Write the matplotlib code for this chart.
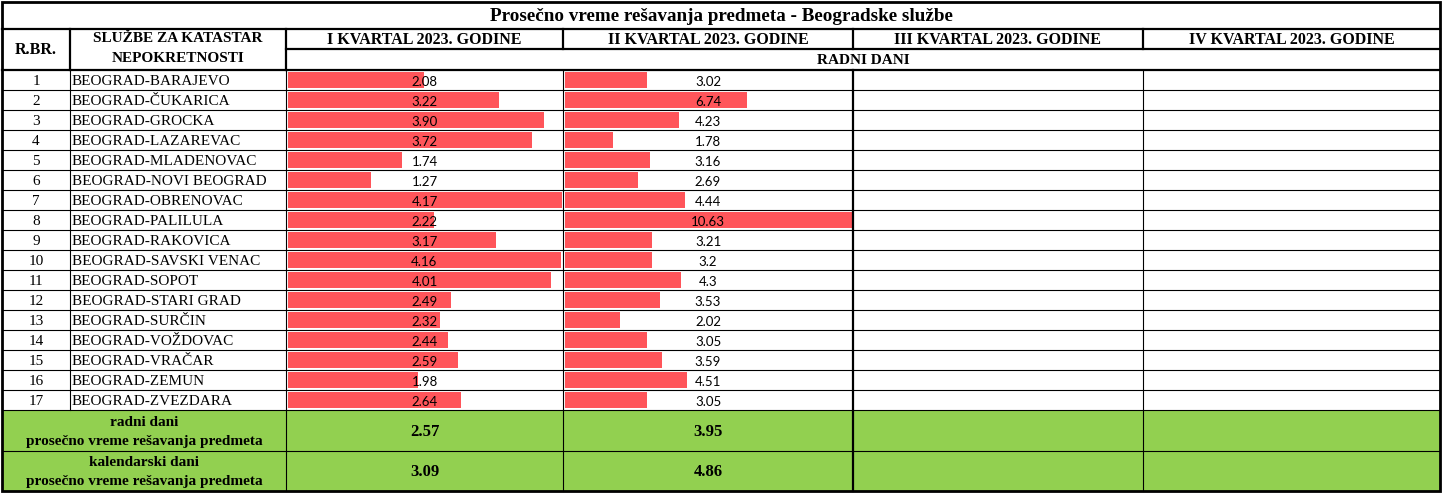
import matplotlib
matplotlib.use("Agg")
import matplotlib.pyplot as plt
from matplotlib.patches import Rectangle

# ---------------- data ----------------
title = "Prosečno vreme rešavanja predmeta - Beogradske službe"
quarters = ["I KVARTAL 2023. GODINE", "II KVARTAL 2023. GODINE",
            "III KVARTAL 2023. GODINE", "IV KVARTAL 2023. GODINE"]
services = ["BEOGRAD-BARAJEVO", "BEOGRAD-ČUKARICA", "BEOGRAD-GROCKA", "BEOGRAD-LAZAREVAC",
            "BEOGRAD-MLADENOVAC", "BEOGRAD-NOVI BEOGRAD", "BEOGRAD-OBRENOVAC", "BEOGRAD-PALILULA",
            "BEOGRAD-RAKOVICA", "BEOGRAD-SAVSKI VENAC", "BEOGRAD-SOPOT", "BEOGRAD-STARI GRAD",
            "BEOGRAD-SURČIN", "BEOGRAD-VOŽDOVAC", "BEOGRAD-VRAČAR", "BEOGRAD-ZEMUN",
            "BEOGRAD-ZVEZDARA"]
q1_values = [2.08, 3.22, 3.90, 3.72, 1.74, 1.27, 4.17, 2.22, 3.17, 4.16, 4.01, 2.49,
             2.32, 2.44, 2.59, 1.98, 2.64]
q1_labels = ["2.08", "3.22", "3.90", "3.72", "1.74", "1.27", "4.17", "2.22", "3.17", "4.16",
             "4.01", "2.49", "2.32", "2.44", "2.59", "1.98", "2.64"]
q2_values = [3.02, 6.74, 4.23, 1.78, 3.16, 2.69, 4.44, 10.63, 3.21, 3.2, 4.3, 3.53,
             2.02, 3.05, 3.59, 4.51, 3.05]
q2_labels = ["3.02", "6.74", "4.23", "1.78", "3.16", "2.69", "4.44", "10.63", "3.21", "3.2",
             "4.3", "3.53", "2.02", "3.05", "3.59", "4.51", "3.05"]
summary_labels = [("radni dani", "prosečno vreme rešavanja predmeta"),
                  ("kalendarski dani", "prosečno vreme rešavanja predmeta")]
summary_q1 = ["2.57", "3.09"]
summary_q2 = ["3.95", "4.86"]

# ---------------- layout (pixels) ----------------
W, H = 1442, 493
XS = [2, 70, 286, 563, 853, 1143, 1440]
Y_TOP, Y_TITLE, Y_H1, Y_H2 = 2, 28.5, 49, 70
ROW_H = 20
N = len(services)
Y_DATA_END = Y_H2 + N * ROW_H
Y_G1, Y_G2, Y_BOT = Y_DATA_END, 451, 491

BAR_COLOR = "#FF555A"
GREEN = "#92D050"
SERIF = "Liberation Serif"
VALFONT = "Lato"
THIN, THICK = 0.8, 1.6

fig = plt.figure(figsize=(W / 100, H / 100), dpi=100)
fig.patch.set_facecolor("white")


def fx(px):
    return px / W


def fy(py):
    return 1 - py / H


# data bar axes (drawn first, beneath the grid)
bar_specs = [(XS[2] + 1.5, XS[3] - 1, q1_values), (XS[3] + 2, XS[4] - 0.5, q2_values)]
for x0, x1, vals in bar_specs:
    bax = fig.add_axes([fx(x0), fy(Y_DATA_END), fx(x1 - x0), (Y_DATA_END - Y_H2) / H])
    bax.barh(range(N), vals, height=0.78, color=BAR_COLOR, left=0)
    bax.set_xlim(0, max(vals))
    bax.set_ylim(N - 0.5, -0.5)
    bax.axis("off")
    bax.patch.set_alpha(0)

ax = fig.add_axes([0, 0, 1, 1], zorder=5)
ax.set_xlim(0, W)
ax.set_ylim(H, 0)
ax.axis("off")
ax.patch.set_alpha(0)

# green summary fill
ax.add_patch(Rectangle((XS[0], Y_G1), XS[-1] - XS[0], Y_BOT - Y_G1, facecolor=GREEN,
                       edgecolor="none", zorder=0))


def hline(y, x0, x1, lw):
    ax.plot([x0, x1], [y, y], color="black", lw=lw, solid_capstyle="projecting", zorder=3)


def vline(x, y0, y1, lw):
    ax.plot([x, x], [y0, y1], color="black", lw=lw, solid_capstyle="projecting", zorder=3)


# horizontal lines
hline(Y_TITLE, XS[0], XS[-1], THICK)
hline(Y_H1, XS[2], XS[-1], THICK)
hline(Y_H2, XS[0], XS[-1], THICK)
for i in range(1, N + 1):
    hline(Y_H2 + i * ROW_H, XS[0], XS[-1], THIN)
hline(Y_G2, XS[0], XS[-1], THIN)

# vertical lines
for x in XS[1:3]:
    vline(x, Y_TITLE, Y_H2, THICK)
    vline(x, Y_H2, Y_DATA_END, THIN)
for x in XS[3:6]:
    vline(x, Y_TITLE, Y_H1, THICK)
vline(XS[2], Y_G1, Y_BOT, THIN)
vline(XS[3], Y_H2, Y_BOT, THIN)
vline(XS[4], Y_H2, Y_BOT, THICK)
vline(XS[5], Y_H2, Y_BOT, THIN)

# outer border
ax.add_patch(Rectangle((XS[0], Y_TOP), XS[-1] - XS[0], Y_BOT - Y_TOP, facecolor="none",
                       edgecolor="black", lw=2.0, zorder=4))

# ---------------- text ----------------
ax.text((XS[0] + XS[-1]) / 2, (Y_TOP + Y_TITLE) / 2 + 1, title, family=SERIF, weight="bold",
        fontsize=13.8, ha="center", va="center")
ax.text((XS[0] + XS[1]) / 2, (Y_TITLE + Y_H2) / 2 + 1, "R.BR.", family=SERIF, weight="bold",
        fontsize=11.5, ha="center", va="center")
ax.text((XS[1] + XS[2]) / 2, 39, "SLUŽBE ZA KATASTAR", family=SERIF, weight="bold",
        fontsize=11, ha="center", va="center")
ax.text((XS[1] + XS[2]) / 2, 59, "NEPOKRETNOSTI", family=SERIF, weight="bold",
        fontsize=11, ha="center", va="center")
for k, q in enumerate(quarters):
    ax.text((XS[2 + k] + XS[3 + k]) / 2, (Y_TITLE + Y_H1) / 2 + 1, q, family=SERIF,
            weight="bold", fontsize=11.5, ha="center", va="center")
ax.text((XS[2] + XS[-1]) / 2, (Y_H1 + Y_H2) / 2 + 1, "RADNI DANI", family=SERIF,
        weight="bold", fontsize=11, ha="center", va="center")

for i, name in enumerate(services):
    yc = Y_H2 + i * ROW_H + ROW_H / 2 + 1.5
    ax.text((XS[0] + XS[1]) / 2, yc, str(i + 1), family=SERIF, fontsize=11,
            ha="center", va="center")
    ax.text(XS[1] + 2, yc, name, family=SERIF, fontsize=11, ha="left", va="center")
    ax.text((XS[2] + XS[3]) / 2, yc, q1_labels[i], family=VALFONT, fontsize=9.5,
            ha="center", va="center")
    ax.text((XS[3] + XS[4]) / 2, yc, q2_labels[i], family=VALFONT, fontsize=9.5,
            ha="center", va="center")

g_rows = [(Y_G1, Y_G2), (Y_G2, Y_BOT)]
for k, (y0, y1) in enumerate(g_rows):
    l1, l2 = summary_labels[k]
    ax.text((XS[0] + XS[2]) / 2, y0 + 12, l1, family=SERIF, weight="bold", fontsize=11,
            ha="center", va="center")
    ax.text((XS[0] + XS[2]) / 2, y0 + 31, l2, family=SERIF, weight="bold", fontsize=11,
            ha="center", va="center")
    ym = (y0 + y1) / 2 + 1
    ax.text((XS[2] + XS[3]) / 2, ym, summary_q1[k], family=SERIF, weight="bold",
            fontsize=12, ha="center", va="center")
    ax.text((XS[3] + XS[4]) / 2, ym, summary_q2[k], family=SERIF, weight="bold",
            fontsize=12, ha="center", va="center")

fig.savefig("out.png", dpi=100, facecolor="white")
